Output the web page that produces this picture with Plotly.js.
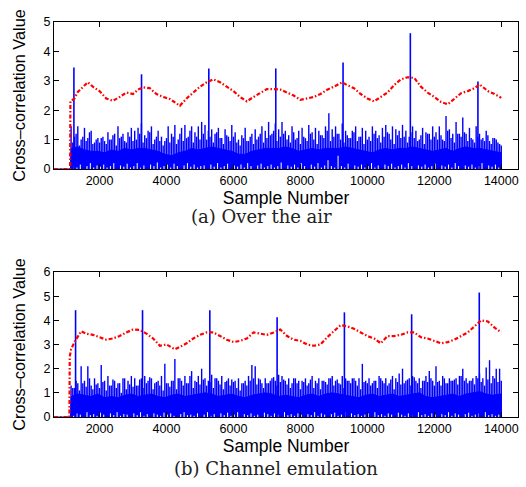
<!DOCTYPE html>
<html>
<head>
<meta charset="utf-8">
<script src="https://cdn.plot.ly/plotly-3.0.1.min.js"></script>
<style>html,body{margin:0;padding:0;background:#fff;}#chart{width:526px;height:487px;}</style>
</head>
<body>
<div id="chart"></div>
<script>
// ---------- data ----------
var xTicks = [2000, 4000, 6000, 8000, 10000, 12000, 14000];
var flatStart = 640;          // first sample shown
var noiseStart = 1150;        // first noise peak
var noiseEnd = 14000;         // last sample
var bodyStep = 200;           // spacing of the dense-body envelope readings
var peakStep = 100;           // spacing of the noise peak readings

// (a) Over the air : top edge of the solid noise body (x = 1150, 1350, ... 13950)
var bodyA = [0.7,0.75,0.65,0.6,0.6,0.55,0.65,0.6,0.7,0.65,0.7,0.7,0.65,0.6,0.5,0.45,0.55,0.6,0.7,0.65,
  0.7,0.75,0.7,0.65,0.6,0.5,0.5,0.6,0.65,0.7,0.7,0.7,0.75,0.7,0.6,0.65,0.7,0.65,0.7,0.7,
  0.7,0.75,0.7,0.65,0.6,0.55,0.65,0.7,0.65,0.7,0.7,0.75,0.7,0.65,0.6,0.65,0.7,0.6,0.7,0.75,
  0.7,0.7,0.65,0.6,0.55];
// (a) noise peaks (x = 1150, 1250, ... 13950)
var hiA = [1.45,1.1,1.45,1.0,1.4,1.05,1.3,0.9,1.05,
  1.05,0.95,1.25,1.0,1.2,1.45,1.1,0.95,1.25,1.4,
  1.3,1.4,1.55,1.15,1.3,1.45,1.0,1.3,1.1,0.95,
  1.45,1.2,1.5,1.0,1.4,1.5,1.1,1.45,1.25,1.45,
  1.6,1.5,1.3,1.35,1.2,1.4,1.05,1.35,1.1,1.5,
  1.25,1.0,1.15,1.4,0.95,1.2,1.35,1.1,1.45,1.3,
  1.6,1.2,1.55,1.35,1.6,1.3,1.15,1.45,1.0,1.3,
  1.4,1.05,1.5,1.25,1.4,1.3,1.15,1.45,1.9,1.35,
  1.45,1.2,1.55,1.3,1.05,1.3,1.45,1.1,1.4,1.3,
  1.1,1.45,1.3,1.15,1.4,1.5,1.2,1.45,1.35,1.3,
  1.5,1.3,1.1,1.45,1.3,1.0,1.4,1.25,1.2,1.45,
  1.25,1.45,1.0,1.8,1.35,1.2,1.6,1.2,1.75,1.2,
  1.4,1.0,1.45,1.2,1.05,1.3,0.95,1.05,1.0,0.85];
// (a) secondary noise peaks (x = 1200, 1300, ... 14000)
var midA = [0.9,1.2,0.8,1.1,0.95,1.25,0.85,1.0,0.9,
  1.1,0.85,1.0,1.15,0.8,1.05,1.2,0.9,1.1,0.95,
  1.0,1.2,0.9,1.05,1.25,0.85,1.1,0.95,0.8,1.05,
  0.9,1.1,0.85,1.2,0.95,1.05,1.3,0.9,1.1,1.0,
  1.2,1.0,1.1,0.9,1.25,1.05,0.85,1.15,0.95,1.1,
  0.9,0.8,1.05,0.95,1.1,0.85,1.0,1.2,0.9,1.05,
  1.15,1.3,0.95,1.1,1.2,1.0,0.9,1.25,1.05,0.85,
  1.1,0.95,1.2,1.0,0.85,1.15,1.05,1.3,0.95,1.1,
  1.2,1.0,0.9,1.15,1.05,1.25,0.95,1.1,0.85,1.0,
  0.95,1.2,1.05,0.9,1.1,1.25,1.0,0.85,1.15,1.05,
  1.1,0.9,1.25,1.05,0.95,1.15,0.85,1.2,1.0,1.1,
  1.0,1.15,0.95,1.3,1.05,0.9,1.2,1.1,1.25,0.95,
  1.05,0.9,1.1,1.0,0.95,1.15,0.85,1.05,0.9,0.8];
// (a) noise troughs (x = 1225, 1325, ... 14025)
var loA = [0.1,0.05,0.15,0.0,0.1,0.2,0.05,0.12,0.08,
  0.15,0.05,0.1,0.2,0.0,0.12,0.08,0.18,0.05,0.1,
  0.2,0.05,0.12,0.0,0.15,0.1,0.22,0.05,0.1,0.15,
  0.05,0.18,0.1,0.0,0.12,0.2,0.08,0.15,0.05,0.1,
  0.12,0.0,0.15,0.08,0.2,0.05,0.1,0.18,0.0,0.12,
  0.08,0.15,0.05,0.2,0.1,0.0,0.12,0.18,0.05,0.1,
  0.15,0.05,0.1,0.22,0.0,0.12,0.08,0.15,0.05,0.2,
  0.1,0.0,0.15,0.08,0.2,0.05,0.12,0.3,0.1,0.05,
  0.45,0.1,0.05,0.18,0.0,0.12,0.08,0.15,0.05,0.1,
  0.2,0.05,0.12,0.0,0.15,0.1,0.18,0.05,0.1,0.15,
  0.05,0.2,0.1,0.0,0.12,0.08,0.15,0.05,0.1,0.18,
  0.0,0.12,0.08,0.15,0.05,0.2,0.1,0.0,0.12,0.08,
  0.15,0.05,0.1,0.2,0.0,0.12,0.08,0.15,0.05,0.1];
var spikeXA = [1234, 3254, 5264, 7264, 9274, 11284, 13303];
var spikeYA = [3.45, 3.22, 3.42, 3.42, 3.62, 4.62, 2.98];
var redXA = [640,1120,1130,1250,1350,1500,1650,1800,2000,2200,2400,2600,2800,3000,3150,3300,3500,3700,3900,4100,4250,4400,4600,4800,5000,5200,5400,5600,5800,6000,6200,6400,6600,6800,7000,7200,7400,7600,7800,8000,8200,8400,8600,8800,9000,9250,9400,9600,9800,10000,10200,10400,10600,10800,11000,11200,11400,11600,11800,12000,12200,12400,12600,12800,13000,13200,13350,13600,13800,14000];
var redYA = [0,0,2.3,2.4,2.62,2.8,2.95,2.8,2.65,2.4,2.32,2.45,2.6,2.55,2.7,2.78,2.75,2.55,2.45,2.38,2.25,2.15,2.4,2.6,2.8,2.95,3.05,2.95,2.8,2.65,2.45,2.3,2.45,2.6,2.72,2.72,2.7,2.6,2.5,2.35,2.4,2.45,2.55,2.7,2.8,2.95,2.85,2.75,2.55,2.4,2.3,2.45,2.6,2.85,3.05,3.12,3.1,2.8,2.6,2.45,2.28,2.2,2.4,2.58,2.65,2.75,2.88,2.65,2.55,2.42];

// (b) Channel emulation
var bodyB = [0.85,0.95,0.9,0.85,0.95,0.8,0.85,0.8,0.9,0.95,0.85,0.9,0.95,0.85,0.8,0.9,0.95,0.85,0.9,0.95,
  1.0,0.95,0.85,0.9,0.95,0.85,0.8,0.9,0.95,1.0,0.95,0.85,0.9,0.85,0.8,0.9,0.95,0.85,0.95,1.0,
  0.95,0.9,0.85,0.8,0.9,0.95,0.85,0.9,0.95,0.85,0.9,0.95,1.0,0.85,0.8,0.85,0.9,0.95,0.85,0.95,
  1.0,1.05,0.95,0.9,0.95];
var hiB = [1.3,1.2,1.4,2.1,1.5,2.1,1.3,1.6,1.4,
  2.15,1.5,1.7,1.3,1.5,1.4,1.0,1.6,1.5,1.7,
  1.6,1.3,1.6,1.7,1.5,1.6,1.4,1.5,1.7,2.2,
  1.4,1.5,2.4,1.6,1.5,1.7,1.4,1.9,1.5,1.7,
  2.0,1.6,1.5,1.75,1.6,1.5,1.7,1.45,1.6,1.55,
  1.5,1.6,1.4,1.5,1.7,2.15,2.1,1.6,1.4,1.6,
  1.4,1.6,1.5,1.75,1.7,1.5,1.6,1.4,1.6,1.5,
  1.5,1.6,1.4,1.7,1.5,1.6,1.5,1.45,1.6,1.7,
  1.5,1.4,1.7,1.6,1.5,1.6,1.5,1.6,2.2,1.5,
  1.6,1.4,1.5,1.7,1.5,1.6,1.4,1.7,1.6,1.8,
  2.0,1.5,1.6,1.7,1.5,1.6,1.5,1.7,1.9,1.5,
  2.1,1.5,1.7,1.4,1.6,1.5,1.6,1.7,2.0,1.6,
  1.5,1.6,1.7,1.8,1.6,2.05,2.35,1.7,2.0,2.0];
var midB = [1.2,1.5,1.1,1.4,1.25,1.6,1.15,1.35,1.2,
  1.45,1.1,1.3,1.55,1.2,1.4,1.6,1.15,1.35,1.25,
  1.3,1.55,1.2,1.4,1.65,1.15,1.45,1.3,1.1,1.4,
  1.25,1.5,1.15,1.6,1.3,1.4,1.7,1.2,1.45,1.35,
  1.55,1.3,1.45,1.2,1.6,1.35,1.15,1.5,1.3,1.45,
  1.2,1.1,1.4,1.3,1.5,1.6,1.35,1.55,1.2,1.4,
  1.5,1.65,1.3,1.45,1.55,1.35,1.2,1.6,1.4,1.15,
  1.45,1.3,1.55,1.2,1.4,1.15,1.5,1.35,1.6,1.3,
  1.55,1.35,1.2,1.5,1.4,1.6,1.3,1.15,1.45,1.4,
  1.3,1.5,1.2,1.6,1.4,1.3,1.55,1.15,1.45,1.35,
  1.4,1.55,1.3,1.65,1.4,1.2,1.5,1.45,1.6,1.3,
  1.45,1.3,1.6,1.4,1.5,1.55,1.35,1.7,1.5,1.4,
  1.5,1.35,1.6,1.45,1.3,1.55,1.4,1.6,1.45,1.5];
var loB = [0.05,0.15,0.1,0.0,0.2,0.08,0.12,0.05,0.18,
  0.1,0.0,0.15,0.08,0.2,0.05,0.12,0.1,0.0,0.15,
  0.08,0.2,0.05,0.12,0.0,0.15,0.1,0.05,0.18,0.1,
  0.15,0.05,0.0,0.12,0.2,0.08,0.1,0.05,0.15,0.0,
  0.1,0.2,0.05,0.12,0.0,0.15,0.08,0.18,0.05,0.1,
  0.2,0.0,0.12,0.08,0.15,0.05,0.1,0.0,0.18,0.12,
  0.05,0.15,0.1,0.0,0.2,0.08,0.12,0.05,0.15,0.1,
  0.0,0.12,0.08,0.2,0.05,0.15,0.1,0.0,0.12,0.18,
  0.05,0.1,0.2,0.0,0.15,0.08,0.12,0.05,0.1,0.15,
  0.0,0.2,0.08,0.12,0.05,0.15,0.1,0.0,0.18,0.1,
  0.05,0.15,0.1,0.0,0.2,0.08,0.12,0.05,0.15,0.1,
  0.0,0.12,0.08,0.2,0.05,0.15,0.1,0.0,0.12,0.18,
  0.05,0.1,0.15,0.0,0.2,0.08,0.12,0.05,0.1,0.15];
var spikeXB = [1284, 3284, 5294, 7304, 9314, 11323, 13343];
var spikeYB = [4.42, 4.42, 4.42, 4.13, 4.33, 4.25, 5.15];
var redXB = [640,1100,1110,1150,1250,1350,1450,1600,1800,2000,2200,2400,2600,2800,3000,3200,3400,3600,3800,4000,4250,4400,4600,4800,5000,5200,5400,5600,5800,6000,6200,6400,6600,6800,7000,7200,7400,7600,7800,8000,8200,8400,8600,8800,9000,9200,9400,9600,9800,10000,10200,10400,10600,10800,11000,11200,11400,11600,11800,12000,12200,12400,12600,12800,13000,13200,13400,13600,13800,14000];
var redYB = [0,0,2.5,2.8,3.1,3.3,3.55,3.45,3.4,3.3,3.2,3.25,3.35,3.5,3.62,3.6,3.45,3.25,2.95,3.0,2.8,2.9,3.05,3.25,3.4,3.5,3.5,3.35,3.2,3.1,3.15,3.25,3.5,3.45,3.4,3.5,3.62,3.35,3.2,3.15,3.0,2.95,3.0,3.3,3.55,3.8,3.75,3.65,3.5,3.35,3.25,3.05,3.35,3.35,3.4,3.5,3.5,3.3,3.25,3.15,3.05,3.1,3.2,3.35,3.5,3.75,4.0,3.95,3.7,3.5];

// ---------- build traces ----------
var BLUE = '#0000ff', RED = '#ff0000';
function bodyTrace(body, xa, ya) {
  var x = [flatStart, noiseStart - 20], y = [0, 0];
  for (var i = 0; i < body.length; i++) { x.push(noiseStart + bodyStep * i); y.push(body[i]); }
  x.push(noiseEnd, noiseEnd); y.push(body[body.length - 1], 0);
  return {x: x, y: y, xaxis: xa, yaxis: ya, type: 'scatter', mode: 'lines', fill: 'tozeroy',
          fillcolor: BLUE, line: {color: BLUE, width: 1}, hoverinfo: 'skip', showlegend: false};
}
function stems(xs, ys, xa, ya, color, width) {
  var x = [], y = [];
  for (var i = 0; i < xs.length; i++) { x.push(xs[i], xs[i], null); y.push(0, ys[i], null); }
  return {x: x, y: y, xaxis: xa, yaxis: ya, type: 'scatter', mode: 'lines',
          line: {color: color, width: width}, hoverinfo: 'skip', showlegend: false};
}
function peakX(n, offset) { var a = []; for (var i = 0; i < n; i++) a.push(noiseStart + offset + peakStep * i); return a; }
function redTrace(rx, ry, xa, ya) {
  return {x: rx, y: ry, xaxis: xa, yaxis: ya, type: 'scatter', mode: 'lines',
          line: {color: RED, width: 2.2, dash: '4px,2px,1.5px,2px'}, hoverinfo: 'skip', showlegend: false};
}
function panel(body, hi, mid, lo, sx, sy, rx, ry, xa, ya) {
  return [
    bodyTrace(body, xa, ya),
    stems(peakX(hi.length, 0), hi, xa, ya, BLUE, 1.4),
    stems(peakX(mid.length, peakStep / 2), mid, xa, ya, BLUE, 1.4),
    stems(peakX(lo.length, peakStep / 2 + 25), lo, xa, ya, '#ffffff', 1),
    stems(sx, sy, xa, ya, BLUE, 1.6),
    redTrace(rx, ry, xa, ya)
  ];
}

var data = panel(bodyA, hiA, midA, loA, spikeXA, spikeYA, redXA, redYA, 'x', 'y')
  .concat(panel(bodyB, hiB, midB, loB, spikeXB, spikeYB, redXB, redYB, 'x2', 'y2'));

var tickFont = {family: 'Liberation Sans, Arial, sans-serif', size: 12.5, color: '#000'};
var titleFont = {family: 'Liberation Sans, Arial, sans-serif', size: 17.5, color: '#000'};
var ytitleFont = {family: 'Liberation Sans, Arial, sans-serif', size: 16.3, color: '#000'};

function xax() {
  return {domain: [0.1027, 0.9848], range: [640, 14500], tickvals: xTicks, ticktext: xTicks.map(String),
    ticks: 'inside', ticklen: 5, tickcolor: '#000', showline: true, linecolor: '#000', linewidth: 1,
    mirror: 'ticks', showgrid: false, zeroline: false, tickfont: tickFont,
    title: {text: 'Sample Number', font: titleFont, standoff: 0}, automargin: false};
}
function yax(dom, max) {
  var tv = []; for (var i = 0; i <= max; i++) tv.push(i);
  return {domain: dom, range: [0, max], tickvals: tv, ticks: 'inside', ticklen: 5, tickcolor: '#000',
    showline: true, linecolor: '#000', linewidth: 1, mirror: 'ticks', showgrid: false, zeroline: false,
    tickfont: tickFont, title: {text: 'Cross\u2013correlation Value', font: ytitleFont, standoff: 13}, automargin: false};
}

var xa1 = xax(); xa1.anchor = 'y';
var xa2 = xax(); xa2.anchor = 'y2';
var ya1 = yax([0.653, 0.9548], 5); ya1.anchor = 'x';
var ya2 = yax([0.1437, 0.4415], 6); ya2.anchor = 'x2';

var capFont = {family: 'DejaVu Serif, serif', size: 18, color: '#222'};
var layout = {
  width: 526, height: 487,
  margin: {l: 0, r: 0, t: 0, b: 0},
  paper_bgcolor: '#fff', plot_bgcolor: '#fff',
  xaxis: xa1, yaxis: ya1, xaxis2: xa2, yaxis2: ya2,
  annotations: [
    {text: '(a) Over the air', xref: 'paper', yref: 'paper', x: 0.498, y: 0.556, showarrow: false, font: capFont, xanchor: 'center', yanchor: 'middle'},
    {text: '(b) Channel emulation', xref: 'paper', yref: 'paper', x: 0.524, y: 0.038, showarrow: false, font: capFont, xanchor: 'center', yanchor: 'middle'}
  ]
};

Plotly.newPlot('chart', data, layout, {displayModeBar: false, staticPlot: true});
</script>
</body>
</html>
